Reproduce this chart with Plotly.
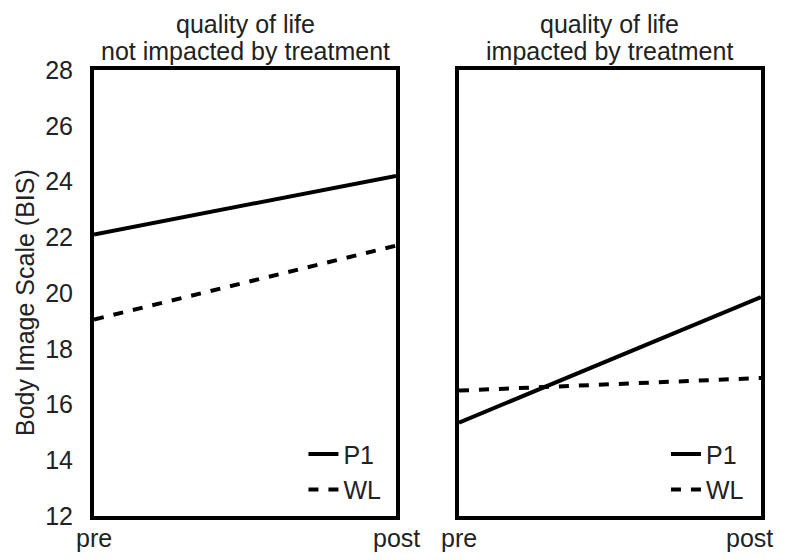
import plotly.graph_objects as go

# Data
time_points = ["pre", "post"]
x_pos = [0, 1]
panel_titles = [["quality of life", "not impacted by treatment"],
                ["quality of life", "impacted by treatment"]]
p1_not_impacted = [22.1, 24.2]
wl_not_impacted = [19.05, 21.7]
p1_impacted = [15.35, 19.85]
wl_impacted = [16.5, 16.95]
y_ticks = [12, 14, 16, 18, 20, 22, 24, 26, 28]
y_title = "Body Image Scale (BIS)"

FONT = "Liberation Sans, Arial, sans-serif"
fs = 25
TXT = "#222"

fig = go.Figure()

def add_pair(p1, wl, xa, ya, leg):
    fig.add_trace(go.Scatter(x=x_pos, y=p1, mode="lines", name="P1",
                             line=dict(color="black", width=4),
                             xaxis=xa, yaxis=ya, legend=leg, legendgroup=leg + "a"))
    fig.add_trace(go.Scatter(x=x_pos, y=wl, mode="lines", name="WL",
                             line=dict(color="black", width=4, dash="10px,10px"),
                             xaxis=xa, yaxis=ya, legend=leg, legendgroup=leg + "b"))

add_pair(p1_not_impacted, wl_not_impacted, "x", "y", "legend")
add_pair(p1_impacted, wl_impacted, "x2", "y2", "legend2")

axis_common = dict(showline=True, linewidth=4, linecolor="black", mirror=True,
                   showgrid=False, zeroline=False, ticks="", automargin=False,
                   tickfont=dict(family=FONT, size=fs, color=TXT))

d1 = [0, 0.4528]
d2 = [0.5472, 1.0]

leg_common = dict(font=dict(family=FONT, size=fs, color=TXT),
                  bgcolor="rgba(0,0,0,0)", xanchor="left", yanchor="top",
                  tracegroupgap=0, itemwidth=30)

font = dict(family=FONT, size=fs, color=TXT)
annotations = []
# panel titles, two lines each
for dom, lines in zip([d1, d2], panel_titles):
    for i, line in enumerate(lines):
        annotations.append(dict(
            text=line, x=(dom[0] + dom[1]) / 2, y=1.0, xref="paper", yref="paper",
            xanchor="center", yanchor="middle", yshift=[46, 19][i],
            showarrow=False, font=font))
annotations.append(dict(
    text=y_title, textangle=-90, x=0, y=0.5, xref="paper", yref="paper",
    xanchor="center", yanchor="middle", xshift=-69, yshift=-10,
    showarrow=False, font=font))
# x tick labels (pre / post) for both panels
for xr in ["x", "x2"]:
    for xv, lab in zip(x_pos, time_points):
        last = (xr == "x2" and xv == x_pos[-1])
        annotations.append(dict(
            text=lab, x=xv, y=0, xref=xr, yref="paper",
            xanchor="right" if last else "center", yanchor="top",
            xshift=14 if last else 0, yshift=-6,
            showarrow=False, font=font))

fig.update_layout(
    width=769, height=544,
    margin=dict(l=86, r=16, t=62, b=36, autoexpand=False),
    plot_bgcolor="white", paper_bgcolor="white",
    font=font,
    xaxis=dict(domain=d1, range=[0, 1], tickvals=x_pos, showticklabels=False, **axis_common),
    xaxis2=dict(domain=d2, range=[0, 1], tickvals=x_pos, showticklabels=False, **axis_common),
    yaxis=dict(range=[12, 28], tickvals=y_ticks, ticklabelstandoff=12, **axis_common),
    yaxis2=dict(range=[12, 28], anchor="x2", showticklabels=False, **axis_common),
    legend=dict(x=0.314, y=0.19, **leg_common),
    legend2=dict(x=0.8575, y=0.19, **leg_common),
    annotations=annotations,
)

fig.write_html("out.html")
